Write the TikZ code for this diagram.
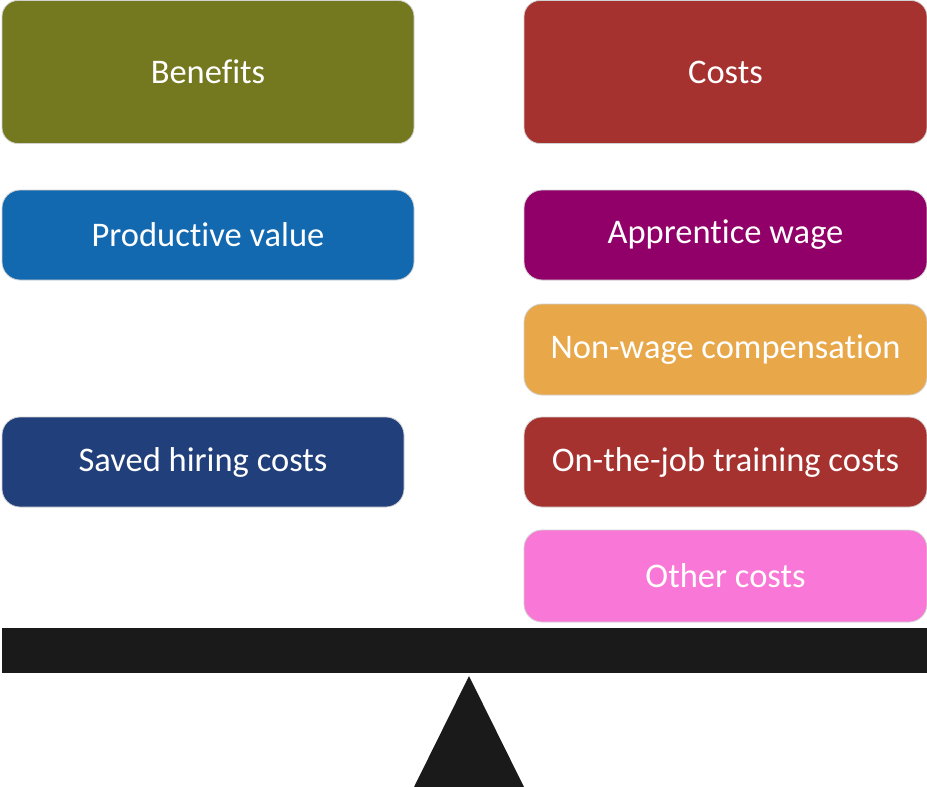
\documentclass[tikz,border=0pt]{standalone}
\usepackage{fontspec}
\setmainfont[Ligatures={NoCommon}]{Carlito}
\definecolor{cBen}{RGB}{116,120,30}
\definecolor{cCost}{RGB}{166,50,48}
\definecolor{cProd}{RGB}{19,105,176}
\definecolor{cAppr}{RGB}{144,0,104}
\definecolor{cNon}{RGB}{232,168,74}
\definecolor{cSave}{RGB}{33,63,122}
\definecolor{cOther}{RGB}{249,119,214}
\definecolor{cBar}{RGB}{26,26,26}
\begin{document}
\begin{tikzpicture}[x=1pt,y=-1pt,
  box/.style={draw=black!18, line width=0.8pt, rounded corners=18pt, inner sep=0pt,
    text=white, font=\fontsize{34.5}{40}\selectfont, minimum height=90pt},
  bigbox/.style={box, rounded corners=16pt, minimum height=143pt}]
\useasboundingbox (0,0) rectangle (927,787);
\node[bigbox, fill=cBen, minimum width=412pt] (ben) at (208,72) {Benefits};
\node[bigbox, fill=cCost, minimum width=403pt] (cost) at (725.5,72) {Costs};
\node[box, fill=cProd, minimum width=412pt] (prod) at (208,235) {Productive value};
\node[box, fill=cAppr, minimum width=403pt] (appr) at (725.5,235) {Apprentice wage};
\node[box, fill=cNon, minimum width=403pt, minimum height=91pt] (non) at (725.5,349.5) {Non-wage compensation};
\node[box, fill=cSave, minimum width=402pt] (save) at (203,462) {Saved hiring costs};
\node[box, fill=cCost, minimum width=403pt] (job) at (725.5,462) {On-the-job training costs};
\node[box, fill=cOther, minimum width=403pt, minimum height=92pt] (oth) at (725.5,576) {Other costs};
\fill[cBar] (2,628) rectangle (927,673);
\fill[cBar] (469,676) -- (414,787) -- (524,787) -- cycle;
\end{tikzpicture}
\end{document}
